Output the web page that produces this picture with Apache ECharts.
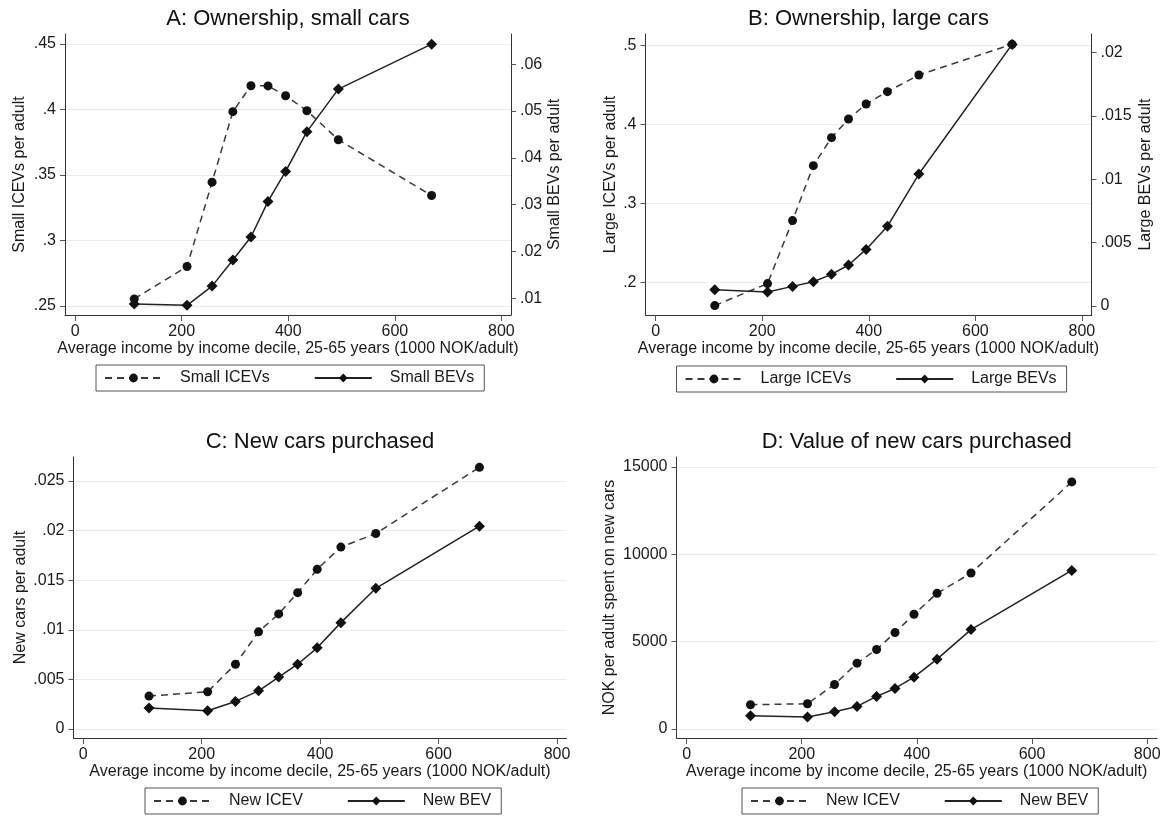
<!DOCTYPE html>
<html>
<head>
<meta charset="utf-8">
<script src="https://cdn.jsdelivr.net/npm/echarts@6/dist/echarts.min.js"></script>
<style>
  html, body { margin: 0; padding: 0; background: #fff; }
  #chart { width: 1165px; height: 816px; }
</style>
</head>
<body>
<div id="chart"></div>
<script>
// average income by decile (1000 NOK/adult), same for all four panels
const income = [111, 210, 257, 296, 330, 362, 395, 435, 494, 669];

// A: ownership, small cars
const smallIcev = [0.2554, 0.2801, 0.3445, 0.3983, 0.4181, 0.4180, 0.4105, 0.3990, 0.3769, 0.3343];
const smallBev = [0.0088, 0.0085, 0.0126, 0.0182, 0.0231, 0.0307, 0.0371, 0.0456, 0.0547, 0.0643];
// B: ownership, large cars
const largeIcev = [0.1704, 0.1983, 0.2782, 0.3479, 0.3834, 0.4070, 0.4260, 0.4417, 0.4628, 0.5017];
const largeBev = [0.00129, 0.00111, 0.00155, 0.00192, 0.0025, 0.00324, 0.00447, 0.00629, 0.01042, 0.02066];
// C: new cars purchased
const newIcev = [0.00332, 0.00375, 0.00653, 0.00979, 0.0116, 0.01374, 0.01609, 0.01833, 0.0197, 0.02637];
const newBev = [0.00211, 0.00184, 0.00278, 0.00385, 0.00523, 0.00653, 0.00818, 0.01072, 0.01418, 0.02044];
// D: value of new cars purchased
const valueIcev = [1390, 1447, 2551, 3769, 4550, 5521, 6568, 7767, 8928, 14144];
const valueBev = [761, 685, 990, 1294, 1866, 2322, 2970, 3998, 5692, 9081];

// tick labels
const xTicks = [0, 200, 400, 600, 800];
const smallIcevTicks = [0.25, 0.3, 0.35, 0.4, 0.45];
const smallBevTicks = [0.01, 0.02, 0.03, 0.04, 0.05, 0.06];
const largeIcevTicks = [0.2, 0.3, 0.4, 0.5];
const largeBevTicks = [0, 0.005, 0.01, 0.015, 0.02];
const newCarTicks = [0, 0.005, 0.01, 0.015, 0.02, 0.025];
const valueTicks = [0, 5000, 10000, 15000];

const titles = ["A: Ownership, small cars", "B: Ownership, large cars", "C: New cars purchased", "D: Value of new cars purchased"];
const xName = "Average income by income decile, 25-65 years (1000 NOK/adult)";

const font = "Liberation Sans, Arial, sans-serif";
const textColor = "#1a1a1a";
const axisColor = "#333";

function pairs(ys) {
  return income.map((x, i) => [x, ys[i]]);
}

// stata style numbers: .25 instead of 0.25
function stataNum(v) {
  let s = String(+Number(v).toFixed(6));
  return s.replace(/^0\./, ".").replace(/^-0\./, "-.");
}

// grid boxes
const grids = [
  { left: 65, top: 34, width: 446, height: 281 },
  { left: 645.5, top: 34, width: 446, height: 281 },
  { left: 73.5, top: 457, width: 493, height: 281 },
  { left: 676.5, top: 457, width: 480.5, height: 281 },
];

function xAxis(gi, min, max) {
  return {
    type: "value",
    gridIndex: gi,
    min: min,
    max: max,
    name: xName,
    nameLocation: "middle",
    nameGap: 25,
    nameTextStyle: { fontFamily: font, fontSize: 16, color: textColor },
    axisLine: { show: true, onZero: false, lineStyle: { color: axisColor, width: 1 } },
    axisTick: { show: true, customValues: xTicks, length: 6, lineStyle: { color: "#555" } },
    axisLabel: { customValues: xTicks, margin: 9, fontFamily: font, fontSize: 16, color: textColor, formatter: stataNum },
    splitLine: { show: false },
  };
}

function yAxis(gi, pos, min, max, ticks, name, gap, grid) {
  return {
    type: "value",
    gridIndex: gi,
    position: pos,
    min: min,
    max: max,
    name: name,
    nameLocation: "middle",
    nameGap: gap,
    nameTextStyle: { fontFamily: font, fontSize: 16, color: textColor },
    axisLine: { show: true, onZero: false, lineStyle: { color: axisColor, width: 1 } },
    axisTick: { show: true, customValues: ticks, length: 5, lineStyle: { color: "#555" } },
    axisLabel: { customValues: ticks, margin: 9, fontFamily: font, fontSize: 16, color: textColor, formatter: stataNum },
    splitLine: { show: grid, lineStyle: { color: "#e8eff4", width: 1 } },
  };
}

function icevSeries(name, xi, yi, ys) {
  return {
    type: "line",
    name: name,
    xAxisIndex: xi,
    yAxisIndex: yi,
    data: pairs(ys),
    symbol: "circle",
    symbolSize: 9,
    itemStyle: { color: "#111" },
    lineStyle: { color: "#3a3a3a", width: 1.5, type: [7, 5] },
    z: 3,
  };
}

function bevSeries(name, xi, yi, ys) {
  return {
    type: "line",
    name: name,
    xAxisIndex: xi,
    yAxisIndex: yi,
    data: pairs(ys),
    symbol: "diamond",
    symbolSize: 11,
    itemStyle: { color: "#111" },
    lineStyle: { color: "#222", width: 1.5, type: "solid" },
    z: 4,
  };
}

function legend(names, left, top) {
  return {
    data: names,
    left: left,
    top: top,
    orient: "horizontal",
    itemWidth: 57,
    itemHeight: 11,
    itemGap: 44,
    padding: [5, 10, 5, 8],
    borderColor: "#555",
    borderWidth: 1,
    selectedMode: false,
    textStyle: { fontFamily: font, fontSize: 16, color: textColor, padding: [0, 0, 0, 13] },
  };
}

var chart = echarts.init(document.getElementById("chart"), null, { renderer: "canvas" });

var option = {
  backgroundColor: "#fff",
  animation: false,
  title: titles.map((t, i) => ({
    text: t,
    left: grids[i].left + grids[i].width / 2,
    top: i < 2 ? 8 : 431,
    textAlign: "center",
    padding: 0,
    textStyle: { fontFamily: font, fontSize: 22, fontWeight: "normal", color: "#111" },
  })),
  grid: grids.map((g) => Object.assign({ outerBoundsMode: "none", containLabel: false }, g)),
  xAxis: [
    xAxis(0, -19, 818),
    xAxis(1, -19, 818),
    xAxis(2, -16.5, 816),
    xAxis(3, -17.5, 817),
  ],
  yAxis: [
    yAxis(0, "left", 0.2431, 0.4576, smallIcevTicks, "Small ICEVs per adult", 37, true),
    yAxis(0, "right", 0.00643, 0.06647, smallBevTicks, "Small BEVs per adult", 36, false),
    yAxis(1, "left", 0.1585, 0.5148, largeIcevTicks, "Large ICEVs per adult", 27, true),
    yAxis(1, "right", -0.00071, 0.02148, largeBevTicks, "Large BEVs per adult", 46, false),
    yAxis(2, "left", -0.000905, 0.02741, newCarTicks, "New cars per adult", 45, true),
    yAxis(3, "left", -514, 15571, valueTicks, "NOK per adult spent on new cars", 59, true),
  ],
  legend: [
    legend(["Small ICEVs", "Small BEVs"], 96, 365),
    legend(["Large ICEVs", "Large BEVs"], 676.5, 366),
    legend(["New ICEV", "New BEV"], 145, 788),
    legend(["New ICEV", "New BEV"], 742, 788),
  ],
  series: [
    icevSeries("Small ICEVs", 0, 0, smallIcev),
    bevSeries("Small BEVs", 0, 1, smallBev),
    icevSeries("Large ICEVs", 1, 2, largeIcev),
    bevSeries("Large BEVs", 1, 3, largeBev),
    icevSeries("New ICEV", 2, 4, newIcev),
    bevSeries("New BEV", 2, 4, newBev),
    icevSeries("New ICEV", 3, 5, valueIcev),
    bevSeries("New BEV", 3, 5, valueBev),
  ],
};

chart.setOption(option);
</script>
</body>
</html>
